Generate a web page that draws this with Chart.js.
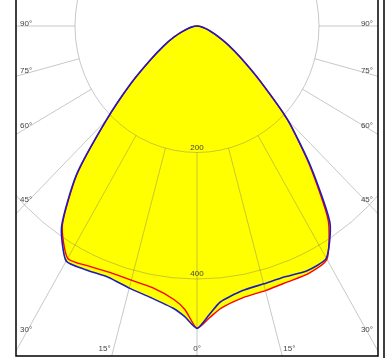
<!DOCTYPE html>
<html lang="en">
<head>
  <meta charset="UTF-8">
  <title>Light distribution</title>
  <script src="https://cdn.jsdelivr.net/npm/chart.js"></script>
  <style>
    html, body { margin: 0; padding: 0; background: #fff; }
    #ldc { display: block; }
  </style>
</head>
<body>
  <canvas id="ldc" width="387" height="359"></canvas>

  <script>
    // gamma angles in degrees, negative = left half of the plane
    const gamma = [-90, -85, -80, -75, -70, -65, -60, -55, -50, -45, -40, -35, -30, -25, -20, -15, -10, -5, -2.5,
                   0, 2.5, 5, 10, 15, 20, 25, 30, 35, 40, 45, 50, 55, 60, 65, 70, 75, 80, 85, 90];

    // luminous intensity (cd) for the two C-planes
    const planeC0 = [0, 3, 8, 15, 25, 42, 63, 93, 141, 209, 306, 385, 424, 419, 415, 416, 420, 434, 449,
                     478, 462, 448, 436, 433, 431, 432, 426, 375, 287, 210, 134, 87, 57, 36, 22, 13, 7, 3, 0];
    const planeC90 = [0, 3, 8, 15, 25, 42, 63, 93, 142, 210, 308, 387, 429, 426, 423, 429, 436, 448, 460,
                      478, 457, 438, 425, 422, 422, 427, 424, 380, 290, 211, 135, 88, 58, 36, 22, 13, 7, 3, 0];

    const ringValues = [200, 400];
    const spokeAngles = [-90, -75, -60, -45, -30, -15, 0, 15, 30, 45, 60, 75, 90];

    const rad = d => d * Math.PI / 180;
    const toXY = vals => vals.map((v, i) => ({ x: v * Math.sin(rad(gamma[i])), y: -v * Math.cos(rad(gamma[i])) }));

    const gridColor = 'rgba(110,110,110,0.38)';
    const labelFont = "8px 'Liberation Sans', Arial, sans-serif";
    const labelColor = '#444';

    // rings, spokes and ring values, drawn over the yellow fill but under the curves
    const polarGrid = {
      id: 'polarGrid',
      beforeDatasetsDraw(chart) {
        const { ctx, chartArea: a, scales: { x, y } } = chart;
        const cx = x.getPixelForValue(0), cy = y.getPixelForValue(0);
        ctx.save();
        ctx.beginPath();
        ctx.rect(a.left, a.top, a.right - a.left, a.bottom - a.top);
        ctx.clip();
        ctx.strokeStyle = gridColor;
        ctx.lineWidth = 1;
        ringValues.forEach(r => {
          const rx = x.getPixelForValue(r) - cx;
          const ry = cy - y.getPixelForValue(r);
          ctx.beginPath();
          ctx.ellipse(cx, cy, rx, ry, 0, 0, Math.PI * 2);
          ctx.stroke();
        });
        spokeAngles.forEach(g => {
          const s = Math.sin(rad(g)), c = Math.cos(rad(g));
          ctx.beginPath();
          ctx.moveTo(x.getPixelForValue(200 * s), y.getPixelForValue(-200 * c));
          ctx.lineTo(x.getPixelForValue(1200 * s), y.getPixelForValue(-1200 * c));
          ctx.stroke();
        });
        ctx.fillStyle = labelColor;
        ctx.font = labelFont;
        ctx.textAlign = 'center';
        ctx.textBaseline = 'bottom';
        ringValues.forEach(r => ctx.fillText(String(r), cx, y.getPixelForValue(-r) - 1));
        ctx.restore();
      },
      afterDraw(chart) {
        const { ctx, chartArea: a, scales: { x, y } } = chart;
        const cx = x.getPixelForValue(0), cy = y.getPixelForValue(0);
        ctx.save();
        ctx.fillStyle = labelColor;
        ctx.font = labelFont;
        spokeAngles.forEach(g => {
          const s = Math.sin(rad(g)), c = Math.cos(rad(g));
          const dx = x.getPixelForValue(s) - cx, dy = y.getPixelForValue(-c) - cy;
          const txt = Math.abs(g) + '°';
          // where does the spoke leave the frame?
          const tBottom = (a.bottom - cy) / dy;
          const bx = cx + dx * tBottom;
          if (dy > 0 && bx > a.left + 2 && bx < a.right - 2) {
            ctx.textBaseline = 'bottom';
            if (g === 0) { ctx.textAlign = 'center'; ctx.fillText(txt, bx, a.bottom - 3); }
            else if (g < 0) { ctx.textAlign = 'right'; ctx.fillText(txt, bx - 1, a.bottom - 3); }
            else { ctx.textAlign = 'left'; ctx.fillText(txt, bx + 1, a.bottom - 3); }
          } else {
            const lx = g < 0 ? a.left + 11 : a.right - 11;
            const ly = Math.min(cy + dy * ((lx - cx) / dx), a.bottom - 20);
            ctx.textBaseline = 'middle';
            ctx.textAlign = g < 0 ? 'left' : 'right';
            ctx.fillText(txt, g < 0 ? a.left + 4 : a.right - 5, ly - 2);
          }
        });
        // frame
        ctx.strokeStyle = '#000';
        ctx.lineWidth = 1.5;
        ctx.beginPath();
        ctx.moveTo(a.left, a.top);
        ctx.lineTo(a.left, a.bottom);
        ctx.lineTo(a.right, a.bottom);
        ctx.lineTo(a.right, a.top);
        ctx.moveTo(a.right + 6, a.top);
        ctx.lineTo(a.right + 6, a.bottom + 2);
        ctx.stroke();
        ctx.restore();
      }
    };

    new Chart(document.getElementById('ldc'), {
      type: 'scatter',
      data: {
        datasets: [
          {
            label: 'C90-C270',
            data: toXY(planeC90),
            showLine: true,
            borderColor: '#1c1cc4',
            borderWidth: 1.6,
            backgroundColor: '#ffff00',
            fill: 'shape',
            pointRadius: 0,
            tension: 0.2
          },
          {
            label: 'C0-C180',
            data: toXY(planeC0),
            showLine: true,
            borderColor: '#ff0000',
            borderWidth: 1.4,
            backgroundColor: '#ffff00',
            fill: 'shape',
            pointRadius: 0,
            tension: 0.2
          }
        ]
      },
      options: {
        responsive: false,
        animation: false,
        devicePixelRatio: 1,
        layout: { padding: { left: 16, right: 9, top: 0, bottom: 3 } },
        scales: {
          x: { type: 'linear', min: -296.7, max: 296.7, display: false },
          y: { type: 'linear', min: -521.7, max: 41.1, display: false }
        },
        plugins: {
          legend: { display: false },
          tooltip: { enabled: false },
          filler: { drawTime: 'beforeDatasetsDraw' }
        }
      },
      plugins: [polarGrid]
    });
  </script>
</body>
</html>
